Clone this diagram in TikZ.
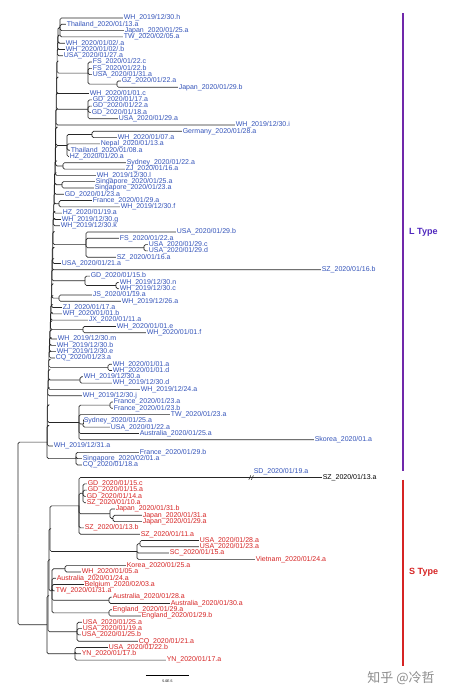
\documentclass[tikz,border=0pt]{standalone}
\usepackage{fontspec}
\setmainfont{Liberation Sans}
\newfontfamily\cjkfont{Noto Sans CJK SC}
\usetikzlibrary{calc}
\definecolor{Lblue}{RGB}{52,84,186}
\definecolor{Sred}{RGB}{214,36,36}
\definecolor{Lpurple}{RGB}{112,40,170}
\definecolor{Ltext}{RGB}{80,40,190}
\newcommand\leafnode[4]{\node[#1] (l#2) at ({#3-1},#2) {#4};}
\newcommand\grpnode[5]{\path let \p1=($(#3)!.5!(#4)$) in (#2pt,\y1) coordinate (#1);
  \foreach \c in {#5}{\draw[br] (#1) |- (\c);}}
\newcommand\spinenode[5]{\path let \p1=($(#3)!.5!(#4)$) in (#2pt,\y1) coordinate (#1);
  \draw[br] (#1) |- (#3); \draw[br] (#1) |- (#5);}
\begin{document}
\begin{tikzpicture}[x=1pt,y=-6.295pt,
  lab/.style={anchor=west,inner sep=0.6pt,font=\fontsize{7}{8}\selectfont},
  lb/.style={lab,text=Lblue}, lr/.style={lab,text=Sred}, lk/.style={lab,text=black},
  br/.style={draw=black!85,line width=0.65pt,rounded corners=1.5pt},
  bar/.style={line width=1.4pt}]
\useasboundingbox (0,-1.8594) rectangle (450,108.23);
\fill[white] (0,-1.8594) rectangle (450,108.23);
% ---------- leaves, L type
\leafnode{lb}{1}{124}{WH\_2019/12/30.h}
\leafnode{lb}{2}{67}{Thailand\_2020/01/13.a}
\leafnode{lb}{3}{125}{Japan\_2020/01/25.a}
\leafnode{lb}{4}{124}{TW\_2020/02/05.a}
\leafnode{lb}{5}{66}{WH\_2020/01/02/.a}
\leafnode{lb}{6}{66}{WH\_2020/01/02/.b}
\leafnode{lb}{7}{64}{USA\_2020/01/27.a}
\leafnode{lb}{8}{93}{FS\_2020/01/22.c}
\leafnode{lb}{9}{93}{FS\_2020/01/22.b}
\leafnode{lb}{10}{93}{USA\_2020/01/31.a}
\leafnode{lb}{11}{122}{GZ\_2020/01/22.a}
\leafnode{lb}{12}{179}{Japan\_2020/01/29.b}
\leafnode{lb}{13}{90}{WH\_2020/01/01.c}
\leafnode{lb}{14}{93}{GD\_2020/01/17.a}
\leafnode{lb}{15}{93}{GD\_2020/01/22.a}
\leafnode{lb}{16}{92}{GD\_2020/01/18.a}
\leafnode{lb}{17}{119}{USA\_2020/01/29.a}
\leafnode{lb}{18}{236}{WH\_2019/12/30.i}
\leafnode{lb}{19}{183}{Germany\_2020/01/28.a}
\leafnode{lb}{20}{118}{WH\_2020/01/07.a}
\leafnode{lb}{21}{101}{Nepal\_2020/01/13.a}
\leafnode{lb}{22}{71}{Thailand\_2020/01/08.a}
\leafnode{lb}{23}{70}{HZ\_2020/01/20.a}
\leafnode{lb}{24}{127}{Sydney\_2020/01/22.a}
\leafnode{lb}{25}{126}{ZJ\_2020/01/16.a}
\leafnode{lb}{26}{97}{WH\_2019/12/30.l}
\leafnode{lb}{27}{96}{Singapore\_2020/01/25.a}
\leafnode{lb}{28}{95}{Singapore\_2020/01/23.a}
\leafnode{lb}{29}{65}{GD\_2020/01/23.a}
\leafnode{lb}{30}{93}{France\_2020/01/29.a}
\leafnode{lb}{31}{121}{WH\_2019/12/30.f}
\leafnode{lb}{32}{63}{HZ\_2020/01/19.a}
\leafnode{lb}{33}{62}{WH\_2019/12/30.g}
\leafnode{lb}{34}{61}{WH\_2019/12/30.k}
\leafnode{lb}{35}{177}{USA\_2020/01/29.b}
\leafnode{lb}{36}{120}{FS\_2020/01/22.a}
\leafnode{lb}{37}{149}{USA\_2020/01/29.c}
\leafnode{lb}{38}{149}{USA\_2020/01/29.d}
\leafnode{lb}{39}{117}{SZ\_2020/01/16.a}
\leafnode{lb}{40}{62}{USA\_2020/01/21.a}
\leafnode{lb}{41}{322}{SZ\_2020/01/16.b}
\leafnode{lb}{42}{91}{GD\_2020/01/15.b}
\leafnode{lb}{43}{120}{WH\_2019/12/30.n}
\leafnode{lb}{44}{120}{WH\_2019/12/30.c}
\leafnode{lb}{45}{93}{JS\_2020/01/19.a}
\leafnode{lb}{46}{122}{WH\_2019/12/26.a}
\leafnode{lb}{47}{63}{ZJ\_2020/01/17.a}
\leafnode{lb}{48}{63}{WH\_2020/01/01.b}
\leafnode{lb}{49}{89}{JX\_2020/01/11.a}
\leafnode{lb}{50}{117}{WH\_2020/01/01.e}
\leafnode{lb}{51}{147}{WH\_2020/01/01.f}
\leafnode{lb}{52}{58}{WH\_2019/12/30.m}
\leafnode{lb}{53}{57}{WH\_2019/12/30.b}
\leafnode{lb}{54}{57}{WH\_2019/12/30.e}
\leafnode{lb}{55}{56}{CQ\_2020/01/23.a}
\leafnode{lb}{56}{113}{WH\_2020/01/01.a}
\leafnode{lb}{57}{113}{WH\_2020/01/01.d}
\leafnode{lb}{58}{84}{WH\_2019/12/30.a}
\leafnode{lb}{59}{113}{WH\_2019/12/30.d}
\leafnode{lb}{60}{141}{WH\_2019/12/24.a}
\leafnode{lb}{61}{83}{WH\_2019/12/30.j}
\leafnode{lb}{62}{114}{France\_2020/01/23.a}
\leafnode{lb}{63}{114}{France\_2020/01/23.b}
\leafnode{lb}{64}{171}{TW\_2020/01/23.a}
\leafnode{lb}{65}{84}{Sydney\_2020/01/25.a}
\leafnode{lb}{66}{111}{USA\_2020/01/22.a}
\leafnode{lb}{67}{140}{Australia\_2020/01/25.a}
\leafnode{lb}{68}{315}{Skorea\_2020/01.a}
\leafnode{lb}{69}{54}{WH\_2019/12/31.a}
\leafnode{lb}{70}{140}{France\_2020/01/29.b}
\leafnode{lb}{71}{83}{Singapore\_2020/02/01.a}
\leafnode{lb}{72}{83}{CQ\_2020/01/18.a}
\leafnode{lb}{73}{254}{SD\_2020/01/19.a}
\leafnode{lk}{74}{323}{SZ\_2020/01/13.a}
% ---------- leaves, S type
\leafnode{lr}{75}{88}{GD\_2020/01/15.c}
\leafnode{lr}{76}{88}{GD\_2020/01/15.a}
\leafnode{lr}{77}{87}{GD\_2020/01/14.a}
\leafnode{lr}{78}{87}{SZ\_2020/01/10.a}
\leafnode{lr}{79}{116}{Japan\_2020/01/31.b}
\leafnode{lr}{80}{143}{Japan\_2020/01/31.a}
\leafnode{lr}{81}{143}{Japan\_2020/01/29.a}
\leafnode{lr}{82}{85}{SZ\_2020/01/13.b}
\leafnode{lr}{83}{141}{SZ\_2020/01/11.a}
\leafnode{lr}{84}{200}{USA\_2020/01/28.a}
\leafnode{lr}{85}{200}{USA\_2020/01/23.a}
\leafnode{lr}{86}{170}{SC\_2020/01/15.a}
\leafnode{lr}{87}{256}{Vietnam\_2020/01/24.a}
\leafnode{lr}{88}{127}{Korea\_2020/01/25.a}
\leafnode{lr}{89}{82}{WH\_2020/01/05.a}
\leafnode{lr}{90}{57}{Australia\_2020/01/24.a}
\leafnode{lr}{91}{85}{Belgium\_2020/02/03.a}
\leafnode{lr}{92}{56}{TW\_2020/01/31.a}
\leafnode{lr}{93}{113}{Australia\_2020/01/28.a}
\leafnode{lr}{94}{171}{Australia\_2020/01/30.a}
\leafnode{lr}{95}{113}{England\_2020/01/29.a}
\leafnode{lr}{96}{142}{England\_2020/01/29.b}
\leafnode{lr}{97}{83}{USA\_2020/01/25.a}
\leafnode{lr}{98}{83}{USA\_2020/01/19.a}
\leafnode{lr}{99}{82}{USA\_2020/01/25.b}
\leafnode{lr}{100}{139}{CQ\_2020/01/21.a}
\leafnode{lr}{101}{109}{USA\_2020/01/22.b}
\leafnode{lr}{102}{82}{YN\_2020/01/17.b}
\leafnode{lr}{103}{167}{YN\_2020/01/17.a}
% ---------- L clades
\grpnode{T1}{60}{l1}{l4}{l1.west,l2.west,l3.west,l4.west}
\grpnode{GZJ}{117}{l11}{l12}{l11.west,l12.west}
\grpnode{F1}{88}{l8}{GZJ}{l8.west,l9.west,l10.west,GZJ}
\grpnode{G0}{88}{l14}{l17}{l14.west,l15.west,l16.west,l17.west}
\grpnode{GW}{92}{l19}{l20}{l19.west,l20.west}
\grpnode{G1}{67}{GW}{l23}{GW,l21.west,l22.west,l23.west}
\grpnode{N24}{63}{l24}{l25}{l24.west,l25.west}
\grpnode{N27}{62}{l27}{l28}{l27.west,l28.west}
\grpnode{N30}{59}{l30}{l31}{l30.west,l31.west}
\grpnode{UCD}{144}{l37}{l38}{l37.west,l38.west}
\grpnode{U1}{86}{l35}{l39}{l35.west,l36.west,UCD,l39.west}
\grpnode{WHnc}{116}{l43}{l44}{l43.west,l44.west}
\grpnode{W1}{85}{l42}{WHnc}{l42.west,WHnc}
\grpnode{J1}{59}{l45}{l46}{l45.west,l46.west}
\grpnode{E1}{83}{l50}{l51}{l50.west,l51.west}
\grpnode{D1}{108}{l56}{l57}{l56.west,l57.west}
\grpnode{A1}{80}{l58}{l59}{l58.west,l59.west}
\grpnode{FRp}{110}{l62}{l63}{l62.west,l63.west}
\grpnode{SY}{83}{l65}{l66}{l65.west,l66.west}
\grpnode{FR}{79}{FRp}{l68}{FRp,l64.west,SY,l67.west,l68.west}
\grpnode{FC}{76}{l70}{l72}{l70.west,l71.west,l72.west}
% ---------- L spine
\spinenode{s1}{58.0}{T1}{l5}{l5.west}
\spinenode{s2}{57.7}{s1}{l6}{l6.west}
\spinenode{s3}{57.4}{s2}{l7}{l7.west}
\spinenode{s4}{57.1}{s3}{F1}{F1}
\spinenode{s5}{56.7}{s4}{l13}{l13.west}
\spinenode{s6}{56.4}{s5}{G0}{G0}
\spinenode{s7}{56.1}{s6}{l18}{l18.west}
\spinenode{s8}{55.8}{s7}{G1}{G1}
\spinenode{s9}{55.5}{s8}{N24}{N24}
\spinenode{s10}{55.2}{s9}{l26}{l26.west}
\spinenode{s11}{54.9}{s10}{N27}{N27}
\spinenode{s12}{54.5}{s11}{l29}{l29.west}
\spinenode{s13}{54.2}{s12}{N30}{N30}
\spinenode{s14}{53.9}{s13}{l32}{l32.west}
\spinenode{s15}{53.6}{s14}{l33}{l33.west}
\spinenode{s16}{53.3}{s15}{l34}{l34.west}
\spinenode{s17}{53.0}{s16}{U1}{U1}
\spinenode{s18}{52.7}{s17}{l40}{l40.west}
\spinenode{s19}{52.3}{s18}{l41}{l41.west}
\spinenode{s20}{52.0}{s19}{W1}{W1}
\spinenode{s21}{51.7}{s20}{J1}{J1}
\spinenode{s22}{51.4}{s21}{l47}{l47.west}
\spinenode{s23}{51.1}{s22}{l48}{l48.west}
\spinenode{s24}{50.8}{s23}{l49}{l49.west}
\spinenode{s25}{50.5}{s24}{E1}{E1}
\spinenode{s26}{50.1}{s25}{l52}{l52.west}
\spinenode{s27}{49.8}{s26}{l53}{l53.west}
\spinenode{s28}{49.5}{s27}{l54}{l54.west}
\spinenode{s29}{49.2}{s28}{l55}{l55.west}
\spinenode{s30}{48.9}{s29}{D1}{D1}
\spinenode{s31}{48.6}{s30}{A1}{A1}
\spinenode{s32}{48.3}{s31}{l60}{l60.west}
\spinenode{s33}{47.9}{s32}{l61}{l61.west}
\spinenode{s34}{47.6}{s33}{FR}{FR}
\spinenode{s35}{47.3}{s34}{l69}{l69.west}
\spinenode{L0}{47.0}{s35}{FC}{FC}
% ---------- S clades
\coordinate (brk) at (251,74);
\grpnode{GDg}{83}{l75}{l78}{l75.west,l76.west,l77.west,l78.west}
\grpnode{JP2}{113}{l80}{l81}{l80.west,l81.west}
\grpnode{JP}{110}{l79}{JP2}{l79.west,JP2}
\grpnode{ST}{79}{l74}{l83}{brk,GDg,JP,l82.west,l83.west}
\draw[br] (brk) -- (l74.west);
\draw[black!85,line width=0.5pt] ([xshift=-2.2pt,yshift=-2.2pt]brk) -- ([xshift=-0.2pt,yshift=2.2pt]brk)
  ([xshift=0.4pt,yshift=-2.2pt]brk) -- ([xshift=2.4pt,yshift=2.2pt]brk);
\grpnode{USAp}{140}{l84}{l85}{l84.west,l85.west}
\grpnode{VG}{137}{USAp}{l87}{USAp,l86.west,l87.west}
\grpnode{S1}{50}{ST}{VG}{ST,VG}
\grpnode{KW}{65}{l88}{l89}{l88.west,l89.west}
\grpnode{AU}{109}{l93}{l94}{l93.west,l94.west}
\grpnode{EN}{109}{l95}{l96}{l95.west,l96.west}
\grpnode{K}{52}{KW}{EN}{KW,l90.west,l91.west,l92.west,AU,EN}
\grpnode{UG}{77}{l97}{l100}{l97.west,l98.west,l99.west,l100.west}
\grpnode{YG}{75}{l101}{l103}{l101.west,l102.west,l103.west}
\spinenode{S2}{49}{S1}{K}{K}
\spinenode{S3}{48}{S2}{UG}{UG}
\spinenode{S0}{47}{S3}{YG}{YG}
\spinenode{root}{18}{L0}{S0}{S0}
% ---------- type bars
\coordinate (Lt) at (403,0.21); \coordinate (Lb) at (403,72.96);
\coordinate (St) at (403,74.39); \coordinate (Sb) at (403,103.93);
\draw[bar,Lpurple] (Lt) -- (Lb);
\draw[bar,Sred] (St) -- (Sb);
\node[anchor=west,inner sep=0pt,font=\fontsize{9}{10}\selectfont\bfseries,text=Ltext] (Ltype) at (409,35) {L Type};
\node[anchor=west,inner sep=0pt,font=\fontsize{9}{10}\selectfont\bfseries,text=Sred] (Stype) at (409,89) {S Type};
% ---------- scale bar
\coordinate (sb1) at (146,105.37); \coordinate (sb2) at (189,105.37);
\draw[black,line width=0.6pt] (sb1) -- (sb2);
\node[inner sep=0pt,font=\fontsize{3.5}{4}\selectfont] (sbl) at (167.5,106.35) {5.0E-5};
% ---------- watermark
\node[inner sep=0pt,text=black!45,font=\cjkfont\fontsize{13}{14}\selectfont] (wm) at (401,105.85) {知乎 @冷哲};
\end{tikzpicture}
\end{document}
